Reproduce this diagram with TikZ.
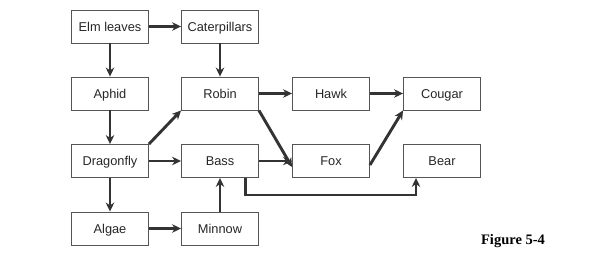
\documentclass[tikz,border=0pt]{standalone}
\usepackage{fontspec}
\setmainfont{Liberation Sans}
\newfontfamily\capfont{Liberation Serif}
\usetikzlibrary{arrows.meta}
\definecolor{boxline}{HTML}{555555}
\definecolor{arr}{HTML}{333333}
\begin{document}
\begin{tikzpicture}[x=1pt,y=-1pt,
  org/.style={draw=boxline,line width=0.9pt,minimum width=77pt,minimum height=33pt,inner sep=0pt,text height=9.2pt,text depth=0pt,font=\fontsize{12.8}{14}\selectfont,text=black!85},
  link/.style={draw=arr,line width=2.9pt,-{Stealth[length=9pt,width=8.5pt]}}]
\useasboundingbox (0,0) rectangle (600,260);
\node[org] (elm) at (110,26.5) {Elm leaves};
\node[org] (cat) at (220,26.5) {Caterpillars};
\node[org] (aph) at (110,93.5) {Aphid};
\node[org] (rob) at (220,93.5) {Robin};
\node[org] (hawk) at (331,93.5) {Hawk};
\node[org] (cou) at (442,93.5) {Cougar};
\node[org] (dra) at (110,161) {Dragonfly};
\node[org] (bass) at (220,161) {Bass};
\node[org] (fox) at (331,161) {Fox};
\node[org] (bear) at (442,161) {Bear};
\node[org] (alg) at (110,228.5) {Algae};
\node[org] (min) at (220,228.5) {Minnow};
\node[font=\capfont\bfseries\fontsize{14.5}{16}\selectfont] (fig) at (513,241) {Figure 5-4};
\coordinate (c1) at (245.7,195);
\coordinate (c2) at (416,195);
\draw[link] (elm) -- (cat);
\draw[link] (elm) -- (aph);
\draw[link] (cat) -- (rob);
\draw[link] (aph) -- (dra);
\draw[link] (dra) -- (alg);
\draw[link] (dra) -- (bass);
\draw[link] (alg) -- (min);
\draw[link] (min) -- (bass);
\draw[link] (rob) -- (hawk);
\draw[link] (hawk) -- (cou);
\draw[link] (dra.north east) -- (rob.south west);
\draw[link] (rob.south east) -- ([yshift=-6pt]fox.west);
\draw[link] ([yshift=-4pt]fox.east) -- (cou.south west);
\draw[link] (bass) -- (fox);
\draw[link] (bass.south -| c1) -- (c1) -- (c2) -- (bear.south -| c2);
\end{tikzpicture}
\end{document}
